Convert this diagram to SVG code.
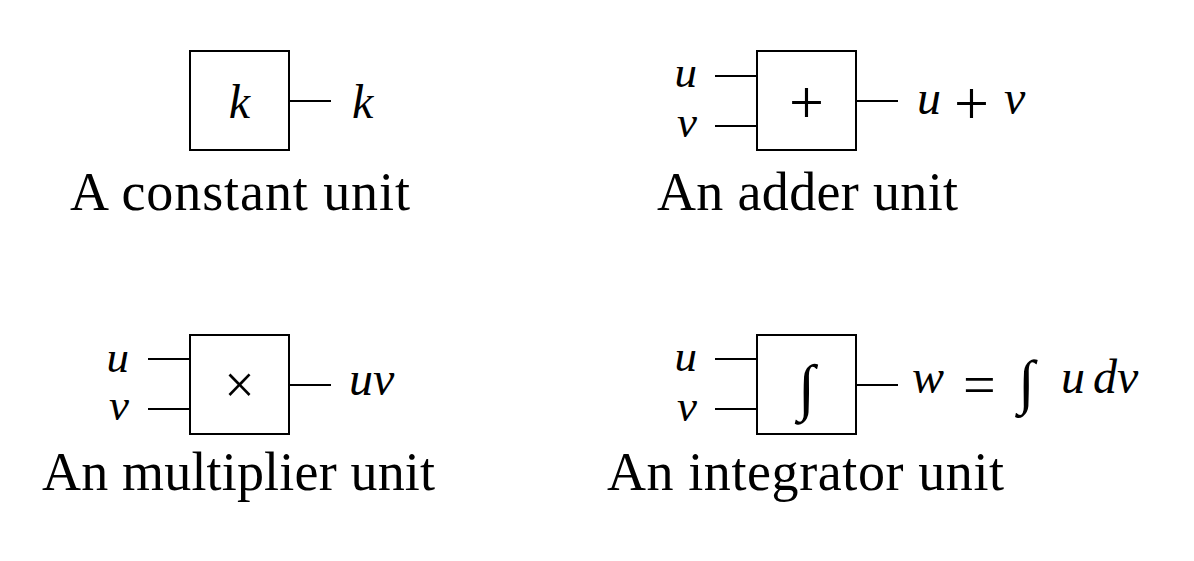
<svg xmlns="http://www.w3.org/2000/svg" width="1194" height="561" viewBox="0 0 1194 561">
<style>
.box{fill:none;stroke:#000;stroke-width:2}
.wire{stroke:#000;stroke-width:2;fill:none}
.cap{font-family:"Liberation Serif",serif;font-size:54px;fill:#000}
.m{font-family:"Liberation Serif",serif;font-size:48px;font-style:italic;fill:#000}
.in{font-size:45px}
.op{font-family:"Liberation Serif",serif;font-style:normal;fill:#000}
</style>
<rect width="1194" height="561" fill="#fff"/>
<g id="constant">
<rect class="box" x="190" y="51" width="99" height="99"/>
<text class="m" x="239.5" y="118" text-anchor="middle">k</text>
<text class="m" x="352" y="118">k</text>
<text class="cap" x="70" y="210" textLength="340" lengthAdjust="spacing">A constant unit</text>
</g>
<g id="adder">
<rect class="box" x="757" y="51" width="99" height="99"/>
<text class="op" x="806.5" y="123" font-size="62" text-anchor="middle">+</text>
<text class="m in" x="697" y="87" text-anchor="end">u</text>
<text class="m in" x="697" y="137" text-anchor="end">v</text>
<text class="m" y="114"><tspan x="917">u</tspan><tspan class="op" x="954" y="124" font-size="62">+</tspan><tspan x="1004" y="114">v</tspan></text>
<text class="cap" x="657" y="210" textLength="301" lengthAdjust="spacing">An adder unit</text>
</g>
<g id="multiplier">
<rect class="box" x="190" y="335" width="99" height="99"/>
<text class="op" x="239.5" y="403" font-size="54" text-anchor="middle">×</text>
<text class="m in" x="129" y="372" text-anchor="end">u</text>
<text class="m in" x="129" y="420" text-anchor="end">v</text>
<text class="m" x="349" y="395">uv</text>
<text class="cap" x="42" y="490" textLength="393" lengthAdjust="spacing">An multiplier unit</text>
</g>
<g id="integrator">
<rect class="box" x="757" y="335" width="99" height="99"/>
<text class="op" x="806.5" y="408" font-size="62" text-anchor="middle">∫</text>
<text class="m in" x="697" y="371" text-anchor="end">u</text>
<text class="m in" x="697" y="421" text-anchor="end">v</text>
<text class="m" y="393"><tspan x="912">w</tspan><tspan class="op" x="963" y="404" font-size="58">=</tspan><tspan class="op" x="1018" y="402" font-size="60">∫</tspan><tspan x="1061" y="393">u</tspan><tspan x="1093">dv</tspan></text>
<text class="cap" x="607" y="490" textLength="397" lengthAdjust="spacing">An integrator unit</text>
</g>
<g id="connectors">
<line class="wire" x1="289" y1="101" x2="331" y2="101"/>
<line class="wire" x1="715" y1="76" x2="757" y2="76"/>
<line class="wire" x1="715" y1="126" x2="757" y2="126"/>
<line class="wire" x1="856" y1="101" x2="898" y2="101"/>
<line class="wire" x1="148" y1="359" x2="190" y2="359"/>
<line class="wire" x1="148" y1="409" x2="190" y2="409"/>
<line class="wire" x1="289" y1="385" x2="331" y2="385"/>
<line class="wire" x1="715" y1="359" x2="757" y2="359"/>
<line class="wire" x1="715" y1="409" x2="757" y2="409"/>
<line class="wire" x1="856" y1="385" x2="898" y2="385"/>
</g>
</svg>
